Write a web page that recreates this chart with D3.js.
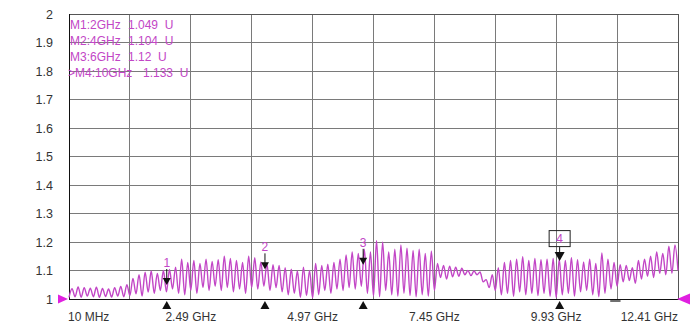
<!DOCTYPE html>
<html>
<head>
<meta charset="utf-8">
<script src="https://cdn.jsdelivr.net/npm/d3@7"></script>
<style>
  body { margin: 0; background: #fff; }
  text { font-family: Arial, "Liberation Sans", sans-serif; }
</style>
</head>
<body>
<div id="chart"></div>
<script>
// CONST and GLOBALS
const W = 692, H = 327;
const margin = { top: 14, bottom: 28, left: 69, right: 14 };

// sweep
const startGHz = 0.01, stopGHz = 12.41;

// grid / tick labels
const xGridGHz = [0.01, 1.25, 2.49, 3.73, 4.97, 6.21, 7.45, 8.69, 9.93, 11.17, 12.41];
const xTickLabels = ["10 MHz", "2.49 GHz", "4.97 GHz", "7.45 GHz", "9.93 GHz", "12.41 GHz"];
const xTickGHz = [0.01, 2.49, 4.97, 7.45, 9.93, 12.41];
const yTicks = [1, 1.1, 1.2, 1.3, 1.4, 1.5, 1.6, 1.7, 1.8, 1.9, 2];

// trace values (U), evenly spaced sweep points
const traceValues = [
  // 10 MHz .. 1.25 GHz
  1.006, 1.036, 1.008, 1.042, 1.006, 1.040, 1.010, 1.038, 1.008, 1.041,
  1.006, 1.037, 1.009, 1.035, 1.007, 1.040, 1.010, 1.044, 1.008, 1.050,
  // .. 2.49 GHz
  1.012, 1.072, 1.018, 1.085, 1.010, 1.094, 1.024, 1.098, 1.020, 1.090,
  1.030, 1.100, 1.025, 1.104, 1.035, 1.112, 1.020, 1.140, 1.015, 1.128,
  // .. 3.73 GHz
  1.030, 1.135, 1.020, 1.125, 1.040, 1.140, 1.030, 1.132, 1.045, 1.138,
  1.030, 1.150, 1.040, 1.142, 1.025, 1.135, 1.035, 1.128, 1.020, 1.150,
  // .. 4.97 GHz
  1.040, 1.145, 1.035, 1.130, 1.045, 1.125, 1.030, 1.120, 1.040, 1.118,
  1.025, 1.110, 1.015, 1.105, 1.020, 1.098, 1.006, 1.112, 1.012, 1.100,
  // .. 6.21 GHz
  1.004, 1.125, 1.015, 1.118, 1.030, 1.122, 1.020, 1.128, 1.035, 1.140,
  1.030, 1.155, 1.040, 1.165, 1.035, 1.160, 1.045, 1.175, 1.020, 1.165,
  // .. 7.45 GHz
  1.010, 1.205, 1.008, 1.200, 1.030, 1.165, 1.015, 1.175, 1.010, 1.190,
  1.020, 1.178, 1.012, 1.170, 1.008, 1.175, 1.015, 1.160, 1.010, 1.168,
  // .. 8.69 GHz
  1.030, 1.125, 1.075, 1.118, 1.070, 1.115, 1.078, 1.112, 1.080, 1.108,
  1.085, 1.100, 1.082, 1.098, 1.085, 1.095, 1.060, 1.068, 1.040, 1.085,
  // .. 9.93 GHz
  1.030, 1.110, 1.015, 1.128, 1.020, 1.135, 1.010, 1.140, 1.025, 1.148,
  1.015, 1.135, 1.020, 1.142, 1.012, 1.138, 1.020, 1.140, 1.010, 1.142,
  // .. 11.17 GHz
  1.005, 1.140, 1.015, 1.135, 1.020, 1.145, 1.010, 1.138, 1.025, 1.130,
  1.030, 1.140, 1.015, 1.125, 1.008, 1.162, 1.020, 1.140, 1.035, 1.128,
  // .. 12.41 GHz
  1.045, 1.120, 1.060, 1.118, 1.065, 1.110, 1.055, 1.135, 1.070, 1.140,
  1.080, 1.150, 1.075, 1.165, 1.090, 1.160, 1.085, 1.185, 1.090, 1.190,
  1.100
];

// markers
const markerGHz = [2, 4, 6, 10];
const markerVal = [1.049, 1.104, 1.12, 1.133];
const markerNames = ["1", "2", "3", "4"];
const activeMarker = 3;

// marker readout
const legendNames = ["M1:2GHz", "M2:4GHz", "M3:6GHz", ">M4:10GHz"];
const legendValues = ["1.049  U", "1.104  U", "1.12  U", "1.133  U"];

const traceColor = "#c246c6";

const svg = d3.select("#chart").append("svg")
  .attr("width", W).attr("height", H);

// SCALES
const x = d3.scaleLinear().domain([startGHz, stopGHz]).range([margin.left, W - margin.right]);
const y = d3.scaleLinear().domain([1, 2]).range([H - margin.bottom, margin.top]);

// grid
svg.append("g").selectAll("line").data(xGridGHz).join("line")
  .attr("x1", d => x(d)).attr("x2", d => x(d))
  .attr("y1", y(1)).attr("y2", y(2))
  .attr("stroke", "#7a7a7a").attr("stroke-width", 1)
  .attr("shape-rendering", "crispEdges");
svg.append("g").selectAll("line").data(yTicks).join("line")
  .attr("x1", x(startGHz)).attr("x2", x(stopGHz))
  .attr("y1", d => y(d)).attr("y2", d => y(d))
  .attr("stroke", "#7a7a7a").attr("stroke-width", 1)
  .attr("shape-rendering", "crispEdges");

// frame
svg.append("rect")
  .attr("x", x(startGHz)).attr("y", y(2))
  .attr("width", x(stopGHz) - x(startGHz)).attr("height", y(1) - y(2))
  .attr("fill", "none").attr("stroke", "#555").attr("shape-rendering", "crispEdges");
svg.append("path")
  .attr("d", `M${x(startGHz)},${y(2)}V${y(1)}H${x(stopGHz)}`)
  .attr("fill", "none").attr("stroke", "#111").attr("shape-rendering", "crispEdges");

// y tick labels
const yAxis = d3.axisLeft(y).tickValues(yTicks).tickSize(0).tickPadding(16)
  .tickFormat(d => String(+d.toFixed(1)));
svg.append("g")
  .attr("transform", `translate(${x(startGHz)},0)`)
  .call(yAxis)
  .call(g => g.select(".domain").remove())
  .call(g => g.selectAll("text").attr("font-size", 12.5).attr("fill", "#333")
    .attr("font-family", "Arial, 'Liberation Sans', sans-serif"));

// x tick labels
svg.append("g").selectAll("text").data(xTickGHz).join("text")
  .attr("x", d => x(d))
  .attr("y", 321)
  .attr("text-anchor", (d, i) => i === 0 ? "start" : (i === xTickGHz.length - 1 ? "end" : "middle"))
  .attr("dx", (d, i) => i === 0 ? -1 : 0)
  .attr("font-size", 12).attr("fill", "#333")
  .text((d, i) => xTickLabels[i]);

// trace
const n = traceValues.length;
const traceData = traceValues.map((v, i) => ({ f: startGHz + i * (stopGHz - startGHz) / (n - 1), v }));
const line = d3.line().x(d => x(d.f)).y(d => y(d.v)).curve(d3.curveMonotoneX);
svg.append("path").datum(traceData)
  .attr("d", line)
  .attr("fill", "none").attr("stroke", traceColor).attr("stroke-width", 1.4);

// reference level triangles
svg.append("path")
  .attr("d", `M${x(startGHz) - 1},${y(1)}l-10,-4.5v9z`)
  .attr("fill", "#e020e0");
svg.append("path")
  .attr("d", `M${x(stopGHz) - 1},${y(1)}l13,-5.5v11z`)
  .attr("fill", "#e020e0");

// markers
const mk = svg.append("g").selectAll("g").data(markerGHz).join("g")
  .attr("transform", (d, i) => `translate(${x(d)},${y(markerVal[i])})`);

mk.append("line")
  .attr("x1", 0).attr("x2", 0)
  .attr("y1", (d, i) => i === activeMarker ? -14 : -16).attr("y2", -2)
  .attr("stroke", "#111").attr("stroke-width", 1);
mk.append("path")
  .attr("d", (d, i) => i === activeMarker ? "M0,0l-5,-9h10z" : "M0,0l-4,-7h8z")
  .attr("fill", "#111");
mk.append("text")
  .attr("x", 0).attr("y", -18)
  .attr("text-anchor", "middle")
  .attr("font-size", 12).attr("fill", traceColor)
  .text((d, i) => markerNames[i]);
mk.filter((d, i) => i === activeMarker).append("rect")
  .attr("x", -10.5).attr("y", -30.5).attr("width", 21).attr("height", 16)
  .attr("fill", "none").attr("stroke", "#222");

// marker triangles under the axis
svg.append("g").selectAll("path").data(markerGHz).join("path")
  .attr("d", d => `M${x(d)},${y(1) + 2}l-4.5,8h9z`)
  .attr("fill", "#111");

// small dash near the right end
svg.append("line")
  .attr("x1", x(11.03)).attr("x2", x(11.24))
  .attr("y1", y(1) + 2).attr("y2", y(1) + 2)
  .attr("stroke", "#111").attr("stroke-width", 1.2);

// marker readout
const legendY = [28.5, 44.5, 61, 77];
const lg = svg.append("g");
lg.selectAll("text.name").data(legendNames).join("text")
  .attr("class", "name")
  .attr("x", (d, i) => i === 3 ? 68 : 70)
  .attr("y", (d, i) => legendY[i])
  .attr("font-size", 12).attr("fill", traceColor)
  .text(d => d);
lg.selectAll("text.val").data(legendValues).join("text")
  .attr("class", "val")
  .attr("x", (d, i) => i === 3 ? 143 : 128)
  .attr("y", (d, i) => legendY[i])
  .attr("font-size", 12).attr("fill", traceColor)
  .style("white-space", "pre")
  .text(d => d);
</script>
</body>
</html>
